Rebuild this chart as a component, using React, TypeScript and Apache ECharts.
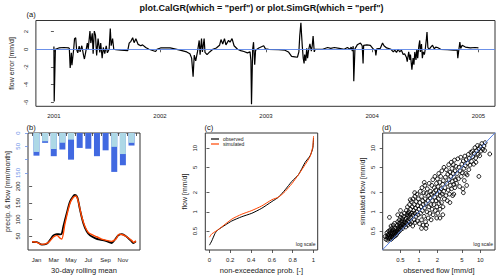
import { useEffect, useRef } from 'react';
import * as echarts from 'echarts';

// ---------- (a) flow error, [day since 2001-01-01, error mm/d] ----------
const yearTickDays = [0, 365, 730, 1095, 1461];
const yearTickLabels = ['2001', '2002', '2003', '2004', '2005'];
const errorTicks = [-6, -4, -2, 0, 2];
const flowErrorByDay: [number, number][] = [
  [0, 0.3], [1, -5.9], [5, 0.0], [17, 0.15], [34, 0.2], [51, 0.15], [53, 0.1], [56, -2.1], [60, -0.4], [62, -1.8],
  [68, 0], [71, 1.2], [75, 1.3], [78, 0], [82, -0.4], [87, 0.35], [90, -0.3], [96, 0.4], [102, -0.7], [105, -1.1],
  [110, -0.2], [115, 0.7], [118, 0], [124, 2.05], [127, 0.7], [132, 1.8], [135, -0.5], [139, 2.05], [143, 1.6], [147, -0.7],
  [152, 1.2], [158, -0.35], [161, 0.7], [166, -1.0], [170, 0.2], [175, -0.5], [180, 0.4], [184, -0.4], [190, 0], [194, 2.35],
  [197, 0.4], [202, 1.2], [206, 0], [214, -0.05], [231, -0.1], [254, -0.15], [259, 0.7], [265, 0.9], [271, 1.3], [276, 0.75],
  [282, 1.2], [290, 0.55], [299, 0.4], [305, 0.5], [316, 0.2], [327, 0.0], [350, -0.25], [355, 0], [367, 0.15], [400, 0.15],
  [434, -0.1], [457, -0.3], [468, -0.5], [474, -1.0], [479, -3.1], [483, -0.65], [488, -1.3], [494, -0.3], [500, 1.0], [503, -0.6],
  [508, 1.2], [511, -0.3], [517, 1.2], [520, -0.35], [527, -0.6], [536, -0.3], [547, 0], [559, 0.15], [570, 0.45], [575, 1.1],
  [581, 0.6], [587, 1.2], [592, 0.5], [601, 1.0], [606, 0.8], [613, 1.2], [620, 0.4], [632, 0], [643, -0.15], [654, -0.25],
  [666, -0.4], [675, -0.3], [678, -1.3], [680, -6.2], [684, 0], [687, 0.8], [691, -1.75], [694, -0.1], [705, 0.15], [722, 0.4],
  [728, 0.05], [739, 0.0], [773, -0.05], [795, -0.1], [807, -0.3], [818, -0.8], [829, -0.85], [838, -0.9], [843, -0.3], [846, 1.5],
  [850, 3.0], [852, 1.8], [855, 0.25], [858, -1.0], [861, -1.6], [863, -0.6], [867, -1.3], [870, 0.1], [873, -1.0], [877, 0],
  [881, 0.6], [886, -0.2], [889, 0.4], [892, 1.5], [896, -0.3], [899, 0], [914, 0], [925, 0.0], [942, 0.2], [953, 0.1],
  [965, 0.2], [982, 0.1], [999, 0.0], [1010, 0.2], [1019, 0.0], [1023, 0.25], [1027, -0.2], [1030, 0.35], [1032, -3.6], [1036, 0.05],
  [1044, 0.5], [1055, 0.7], [1061, 0.4], [1064, -1.6], [1066, 0.45], [1077, 0.5], [1089, 0.45], [1100, 0.0], [1106, -0.1], [1108, -0.7],
  [1111, 0.05], [1123, 0.1], [1131, 0.7], [1136, 0.4], [1145, 0.15], [1160, 0.0], [1168, -0.3], [1173, -0.1], [1179, -0.35], [1185, 0],
  [1190, -0.3], [1196, -0.1], [1202, -0.6], [1207, -0.5], [1213, -0.9], [1216, -1.4], [1221, -0.3], [1225, -1.2], [1227, -0.6], [1232, -2.3],
  [1236, -1.0], [1239, -1.75], [1242, -0.3], [1246, -1.2], [1249, 0], [1252, -1.0], [1256, 0.4], [1259, 1.0], [1261, -0.3], [1265, 0.6],
  [1268, -1.0], [1271, -0.3], [1275, -0.6], [1278, 0], [1282, 1.2], [1284, 1.95], [1287, 0.2], [1292, 0], [1297, 0.25], [1303, 0.45],
  [1309, 0.05], [1314, 0.25], [1320, 0.2], [1331, 0.0], [1354, -0.05], [1376, -0.1], [1388, -0.1], [1390, -1.0], [1393, -0.2], [1397, 0.8],
  [1400, 0.1], [1405, 0.45], [1416, 0.25], [1433, 0.15], [1450, 0.2], [1461, 0.15],
];

// ---------- (b) regime ----------
const monthAbbr = ['Jan', 'Feb', 'Mar', 'Apr', 'May', 'Jun', 'Jul', 'Aug', 'Sep', 'Oct', 'Nov', 'Dec'];
const monthMid = [0.5, 1.5, 2.5, 3.5, 4.5, 5.5, 6.5, 7.5, 8.5, 9.5, 10.5, 11.5];
const monthBounds = [0, 1, 2, 3, 4, 5, 6, 7, 8, 9, 10, 11, 12];
const monthLabelPos = [0.5, 2.5, 4.5, 6.5, 8.5, 10.5];
const precipTotal = [85, 37, 87, 62, 100, 56, 59, 87, 65, 146, 121, 47];
const precipSolid = [71, 31, 60, 37, 25, 0, 0, 0, 0, 52, 79, 37];
const precipLabelTicks = [0, 50, 150];
const precipTickMarks = [0, 50, 100, 150];
const flowRegimeTicks = [50, 100, 150, 200];
const obsRegimeMonth = [0, 0.54, 1.12, 1.69, 2.08, 2.46, 2.85, 3.23, 3.42, 3.61, 4.0, 4.38, 4.77, 4.96, 5.23, 5.54, 5.92, 6.31, 6.69, 7.27, 7.84, 8.42, 9.0, 9.19, 9.57, 9.96, 10.34, 10.73, 11.11, 11.5, 11.69, 12.0];
const obsRegimeFlow = [32, 32, 24, 27, 39, 52, 56, 55, 57, 79, 119, 154, 171, 174, 167, 129, 89, 64, 52, 44, 39, 36, 31, 29, 39, 52, 56, 52, 44, 34, 29, 34];
const simRegimeMonth = [0, 0.54, 1.12, 1.69, 2.08, 2.46, 2.85, 3.23, 3.42, 3.81, 4.38, 4.77, 5.07, 5.34, 5.73, 6.11, 6.5, 6.88, 7.46, 8.04, 8.61, 9.19, 9.69, 10.07, 10.46, 10.92, 11.5, 11.77, 12.0];
const simRegimeFlow = [33, 31, 25, 28, 36, 47, 52, 44, 41, 89, 149, 167, 171, 154, 109, 79, 61, 55, 48, 41, 37, 34, 41, 56, 54, 48, 37, 31, 36];

// ---------- (c) flow duration curves ----------
const probTicks = [0, 0.2, 0.4, 0.6, 0.8, 1];
const logTicks = [0.5, 1, 2, 5, 10];
const fdcObsProb = [0, 0.022, 0.054, 0.08, 0.151, 0.215, 0.311, 0.407, 0.503, 0.599, 0.663, 0.727, 0.791, 0.855, 0.919, 0.967, 0.993, 1.0];
const fdcObsFlow = [0.30, 0.35, 0.46, 0.52, 0.62, 0.72, 0.84, 0.95, 1.14, 1.45, 1.70, 2.22, 3.0, 3.83, 5.97, 7.6, 10, 14.4];
const fdcSimProb = [0, 0.022, 0.087, 0.215, 0.311, 0.407, 0.503, 0.599, 0.663, 0.727, 0.791, 0.855, 0.919, 0.967, 0.993, 1.0];
const fdcSimFlow = [0.40, 0.45, 0.53, 0.77, 0.92, 1.05, 1.24, 1.55, 1.70, 2.09, 2.76, 3.83, 5.5, 7.4, 10.7, 15.5];

// ---------- (d) daily observed vs simulated flow [obs, sim] ----------
const dailyObsSim: [number, number][] = [
  [0.29, 0.37], [0.3, 0.4], [0.31, 0.36], [0.31, 0.43], [0.32, 0.39], [0.32, 0.45], [0.33, 0.38], [0.33, 0.42], [0.34, 0.47], [0.34, 0.4],
  [0.35, 0.37], [0.35, 0.44], [0.36, 0.5], [0.36, 0.41], [0.37, 0.46], [0.37, 0.39], [0.38, 0.43], [0.38, 0.52], [0.39, 0.48], [0.39, 0.41],
  [0.4, 0.45], [0.4, 0.55], [0.41, 0.42], [0.41, 0.5], [0.42, 0.47], [0.3, 0.47], [0.32, 0.5], [0.28, 0.41], [0.33, 0.82], [0.35, 0.6],
  [0.36, 0.55], [0.34, 0.52], [0.38, 0.62], [0.4, 0.66],
  [0.43, 0.44], [0.43, 0.55], [0.44, 0.5], [0.44, 0.62], [0.45, 0.47], [0.45, 0.7], [0.46, 0.53], [0.46, 0.58], [0.47, 0.49], [0.47, 0.66],
  [0.48, 0.55], [0.48, 0.75], [0.49, 0.6], [0.5, 0.52], [0.5, 0.68], [0.5, 0.82], [0.51, 0.57], [0.52, 0.63], [0.52, 0.9], [0.53, 0.72],
  [0.54, 0.55], [0.54, 0.78], [0.55, 0.65], [0.56, 0.85], [0.56, 0.6], [0.57, 0.7], [0.58, 0.95], [0.58, 0.62], [0.59, 0.76], [0.6, 0.68],
  [0.45, 0.9], [0.5, 1.05],
  [0.61, 0.58], [0.62, 0.8], [0.62, 1.05], [0.63, 0.66], [0.64, 0.9], [0.65, 0.72], [0.65, 1.2], [0.66, 0.62], [0.67, 0.85], [0.68, 1.0],
  [0.69, 0.7], [0.7, 1.3], [0.7, 0.78], [0.71, 0.92], [0.72, 0.65], [0.73, 1.1], [0.74, 0.82], [0.75, 1.45], [0.76, 0.7], [0.77, 0.95],
  [0.78, 1.2], [0.79, 0.6], [0.8, 0.88], [0.8, 1.6], [0.82, 1.05], [0.83, 0.75], [0.84, 1.3], [0.85, 0.95], [0.86, 1.75], [0.87, 0.68],
  [0.88, 1.15], [0.9, 0.85], [0.9, 1.45], [0.92, 1.0], [0.93, 1.9], [0.94, 0.72], [0.95, 1.25], [0.97, 0.9], [0.98, 1.6], [1.0, 1.1],
  [0.72, 1.55], [0.85, 2.0], [0.66, 0.95],
  [1.02, 0.65], [1.03, 1.4], [1.05, 2.1], [1.06, 0.95], [1.08, 1.2], [1.1, 0.75], [1.1, 1.75], [1.12, 2.4], [1.14, 1.05], [1.15, 1.5],
  [1.17, 0.62], [1.18, 1.3], [1.2, 2.0], [1.21, 0.85], [1.23, 1.15], [1.25, 2.6], [1.26, 1.6], [1.28, 0.7], [1.3, 1.35], [1.32, 1.95],
  [1.33, 0.62], [1.35, 1.0], [1.37, 2.3], [1.4, 1.5], [1.42, 0.8], [1.43, 1.8], [1.45, 1.2], [1.47, 2.8], [1.5, 0.95], [1.52, 1.65],
  [1.54, 2.1], [1.56, 1.3], [1.58, 0.75], [1.6, 1.9], [1.3, 0.55], [1.22, 2.9], [1.1, 0.55],
  [1.62, 2.6], [1.64, 1.1], [1.66, 1.5], [1.68, 3.2], [1.7, 0.9], [1.72, 2.0], [1.75, 1.3], [1.78, 2.4], [1.8, 1.7], [1.82, 3.6],
  [1.85, 1.05], [1.88, 2.2], [1.9, 1.5], [1.93, 2.8], [1.95, 1.2], [1.98, 1.9], [2.0, 3.3], [2.02, 0.95], [2.05, 2.5], [2.08, 1.6],
  [2.1, 4.0], [2.12, 1.35], [2.15, 2.1], [2.18, 2.9], [2.2, 1.1], [2.23, 1.8], [2.26, 3.6], [2.3, 2.3], [2.33, 1.4], [2.36, 4.4],
  [2.4, 1.9], [2.43, 2.7], [2.46, 1.2], [2.5, 3.1], [2.53, 2.1], [2.56, 5.0], [2.6, 1.6], [2.2, 0.8], [2.45, 0.9], [1.95, 0.8],
  [2.65, 2.4], [2.7, 3.5], [2.75, 1.8], [2.8, 4.6], [2.85, 2.8], [2.9, 1.5], [2.95, 3.9], [3.0, 2.2], [3.05, 5.5], [3.1, 3.2],
  [3.15, 1.9], [3.2, 4.2], [3.25, 2.6], [3.3, 3.6], [3.35, 6.0], [3.4, 2.3], [3.45, 4.8], [3.5, 3.0], [3.55, 1.8], [3.6, 4.0],
  [3.65, 5.5], [3.7, 2.7], [3.75, 3.5], [3.8, 6.5], [3.85, 2.4], [3.9, 4.4], [3.95, 3.2], [4.0, 5.2], [3.2, 1.4], [3.7, 1.9],
  [4.1, 2.8], [4.2, 4.0], [4.3, 6.8], [4.4, 3.3], [4.5, 5.0], [4.6, 2.5], [4.7, 4.4], [4.8, 7.2], [4.9, 3.6], [5.0, 5.6],
  [5.1, 4.1], [5.2, 2.3], [5.3, 6.3], [5.4, 4.8], [5.5, 3.1], [5.6, 7.5], [5.7, 5.3], [5.8, 4.0], [5.9, 6.6], [6.0, 2.6],
  [6.2, 5.8], [6.4, 8.0], [6.5, 4.6], [6.6, 6.9], [6.8, 5.4], [7.0, 8.6], [6.1, 3.8], [5.3, 2.0],
  [7.2, 6.2], [7.4, 9.0], [7.6, 7.3], [7.8, 5.6], [8.0, 8.2], [8.2, 10.2], [8.4, 7.0], [8.7, 9.1], [9.0, 11.0], [9.2, 8.0],
  [9.5, 9.8], [9.8, 7.6], [10.0, 10.6], [10.3, 9.0], [10.6, 11.8], [11.0, 9.6], [11.5, 10.8], [12.0, 12.2], [9.5, 3.6], [14.3, 8.1],
  [8.5, 6.0], [11.8, 9.2],
];
const oneToOne = [0.1, 30];

const FONT = 'Liberation Sans';
const DARK = '#222';
const ORANGE = '#FF4500';
const LINEBLUE = '#5b84e6';

const tick = (values: number[]) => ({
  show: true, inside: false, length: 3, customValues: values,
  lineStyle: { color: '#333', width: 0.8 },
});
const label = (values: number[], extra: any = {}) => ({
  show: true, customValues: values, fontSize: 6, color: DARK, fontFamily: FONT, margin: 7, ...extra,
});
const nameStyle = { fontSize: 7.5, color: DARK, fontFamily: FONT };
const common = { axisLine: { show: false }, splitLine: { show: false } };

export default function App() {
  const ref = useRef<HTMLDivElement>(null);
  useEffect(() => {
    document.body.style.margin = '0';
    const chart = echarts.init(ref.current!, null, { renderer: 'svg' });
    const gridBase = { show: true, borderColor: '#333', borderWidth: 1, backgroundColor: 'transparent' };
    const option: any = {
      animation: false,
      textStyle: { fontFamily: FONT },
      grid: [
        { ...gridBase, left: 28, top: 20.5, width: 467, height: 85.8 },
        { ...gridBase, left: 28, top: 133, width: 112, height: 117 },
        { ...gridBase, left: 205.3, top: 133, width: 112.4, height: 117 },
        { ...gridBase, left: 382.7, top: 133, width: 112.3, height: 117 },
      ],
      xAxis: [
        {
          ...common, type: 'value', gridIndex: 0, min: -62, max: 1518,
          axisTick: tick(yearTickDays),
          axisLabel: label(yearTickDays, { formatter: (v: number) => yearTickLabels[yearTickDays.indexOf(v)] ?? '' }),
        },
        {
          ...common, type: 'value', gridIndex: 1, min: -0.48, max: 12.48,
          axisTick: tick(monthBounds),
          axisLabel: label(monthLabelPos, { formatter: (v: number) => monthAbbr[Math.round(v - 0.5)] }),
          name: '30-day rolling mean', nameLocation: 'middle', nameGap: 16, nameTextStyle: nameStyle,
        },
        {
          ...common, type: 'value', gridIndex: 2, min: -0.04, max: 1.04,
          axisTick: tick(probTicks),
          axisLabel: label(probTicks),
          name: 'non-exceedance prob. [-]', nameLocation: 'middle', nameGap: 16, nameTextStyle: nameStyle,
        },
        {
          ...common, type: 'log', logBase: 10, gridIndex: 3, min: 0.256, max: 17.4,
          axisTick: tick(logTicks),
          axisLabel: label(logTicks),
          name: 'observed flow [mm/d]', nameLocation: 'middle', nameGap: 16, nameTextStyle: nameStyle,
        },
      ],
      yAxis: [
        {
          ...common, type: 'value', gridIndex: 0, min: -6.44, max: 3.25, position: 'left',
          axisTick: tick(errorTicks),
          axisLabel: label(errorTicks, { rotate: 90 }),
          name: 'flow error [mm/d]', nameLocation: 'middle', nameGap: 17, nameTextStyle: { ...nameStyle, fontSize: 7 },
        },
        {
          ...common, type: 'value', gridIndex: 1, min: 8, max: 361, position: 'left',
          axisTick: tick(flowRegimeTicks),
          axisLabel: label(flowRegimeTicks, { rotate: 90 }),
          name: 'precip. & flow [mm/month]', nameLocation: 'middle', nameGap: 17, nameTextStyle: { ...nameStyle, fontSize: 7 },
        },
        {
          ...common, type: 'value', gridIndex: 1, min: 0, max: 439, inverse: true, position: 'left', offset: 0,
          axisTick: { ...tick(precipTickMarks), lineStyle: { color: '#6a8fe8', width: 0.8 } },
          axisLabel: label(precipLabelTicks, { rotate: 90, color: '#6a8fe8' }),
        },
        {
          ...common, type: 'log', logBase: 10, gridIndex: 2, min: 0.252, max: 17.3,
          axisTick: tick(logTicks),
          axisLabel: label(logTicks, { rotate: 90 }),
          name: 'flow [mm/d]', nameLocation: 'middle', nameGap: 17, nameTextStyle: { ...nameStyle, fontSize: 7 },
        },
        {
          ...common, type: 'log', logBase: 10, gridIndex: 3, min: 0.252, max: 17.3,
          axisTick: tick(logTicks),
          axisLabel: label(logTicks, { rotate: 90 }),
          name: 'simulated flow [mm/d]', nameLocation: 'middle', nameGap: 17, nameTextStyle: { ...nameStyle, fontSize: 7 },
        },
      ],
      legend: {
        data: ['observed', 'simulated'],
        orient: 'vertical', left: 211, top: 136.5, padding: 0, itemGap: 0,
        itemWidth: 8, itemHeight: 1.2, icon: 'rect',
        textStyle: { fontSize: 5, color: DARK, fontFamily: FONT, lineHeight: 5, padding: [0, 0, 0, -1] },
        selectedMode: false,
      },
      series: [
        {
          type: 'line', name: 'flow error', xAxisIndex: 0, yAxisIndex: 0,
          data: flowErrorByDay, showSymbol: false, symbol: 'none',
          lineStyle: { color: '#000', width: 1.2 }, z: 3,
          markLine: {
            silent: true, symbol: 'none', label: { show: false },
            lineStyle: { color: LINEBLUE, width: 0.9, type: 'solid' },
            data: [{ yAxis: 0 }],
          },
        },
        {
          type: 'bar', name: 'precip total', xAxisIndex: 1, yAxisIndex: 2,
          data: monthMid.map((m, i) => [m, precipTotal[i]]),
          barWidth: 6, barGap: '-100%', itemStyle: { color: '#4169E1' },
        },
        {
          type: 'bar', name: 'precip solid', xAxisIndex: 1, yAxisIndex: 2,
          data: monthMid.map((m, i) => [m, precipSolid[i]]),
          barWidth: 6, barGap: '-100%', itemStyle: { color: '#ADD8E6' },
        },
        {
          type: 'line', name: 'obs regime', xAxisIndex: 1, yAxisIndex: 1,
          data: obsRegimeMonth.map((m, i) => [m, obsRegimeFlow[i]]),
          showSymbol: false, symbol: 'none', smooth: 0.3,
          lineStyle: { color: '#000', width: 1.8 },
        },
        {
          type: 'line', name: 'sim regime', xAxisIndex: 1, yAxisIndex: 1,
          data: simRegimeMonth.map((m, i) => [m, simRegimeFlow[i]]),
          showSymbol: false, symbol: 'none', smooth: 0.3,
          lineStyle: { color: ORANGE, width: 1.4 },
        },
        {
          type: 'line', name: 'observed', xAxisIndex: 2, yAxisIndex: 3,
          data: fdcObsProb.map((p, i) => [p, fdcObsFlow[i]]),
          showSymbol: false, symbol: 'none', smooth: 0.2,
          lineStyle: { color: '#000', width: 1 }, itemStyle: { color: '#000' },
        },
        {
          type: 'line', name: 'simulated', xAxisIndex: 2, yAxisIndex: 3,
          data: fdcSimProb.map((p, i) => [p, fdcSimFlow[i]]),
          showSymbol: false, symbol: 'none', smooth: 0.2,
          lineStyle: { color: ORANGE, width: 1 }, itemStyle: { color: ORANGE },
        },
        {
          type: 'scatter', name: 'daily flows', xAxisIndex: 3, yAxisIndex: 4,
          data: dailyObsSim, symbol: 'circle', symbolSize: 3.8,
          itemStyle: { color: 'rgba(0,0,0,0)', borderColor: '#000', borderWidth: 0.9, opacity: 1 },
        },
        {
          type: 'line', name: '1:1', xAxisIndex: 3, yAxisIndex: 4,
          data: oneToOne.map((v) => [v, v]), showSymbol: false, symbol: 'none',
          lineStyle: { color: LINEBLUE, width: 1 }, z: 5,
        },
      ],
      graphic: [
        {
          type: 'text', x: 261.5, y: 8,
          style: {
            text: 'plot.CalGR(which = "perf") or plot.SimGR(which = "perf")',
            font: `bold 9px "${FONT}"`, fill: '#111', textAlign: 'center', textVerticalAlign: 'middle',
          },
        },
        { type: 'text', x: 26.5, y: 14, style: { text: '(a)', font: `7.5px "${FONT}"`, fill: '#111', textVerticalAlign: 'middle' } },
        { type: 'text', x: 26.5, y: 127, style: { text: '(b)', font: `7.5px "${FONT}"`, fill: '#111', textVerticalAlign: 'middle' } },
        { type: 'text', x: 204.5, y: 127, style: { text: '(c)', font: `7.5px "${FONT}"`, fill: '#111', textVerticalAlign: 'middle' } },
        { type: 'text', x: 382, y: 127, style: { text: '(d)', font: `7.5px "${FONT}"`, fill: '#111', textVerticalAlign: 'middle' } },
        { type: 'text', x: 315.5, y: 244.3, style: { text: 'log scale', font: `5px "${FONT}"`, fill: '#222', textAlign: 'right', textVerticalAlign: 'middle' } },
        { type: 'text', x: 493, y: 244.3, style: { text: 'log scale', font: `5px "${FONT}"`, fill: '#222', textAlign: 'right', textVerticalAlign: 'middle' } },
      ],
    };
    chart.setOption(option);
    return () => chart.dispose();
  }, []);
  return <div ref={ref} style={{ position: 'absolute', left: 0, top: 0, width: 500, height: 278 }} />;
}
